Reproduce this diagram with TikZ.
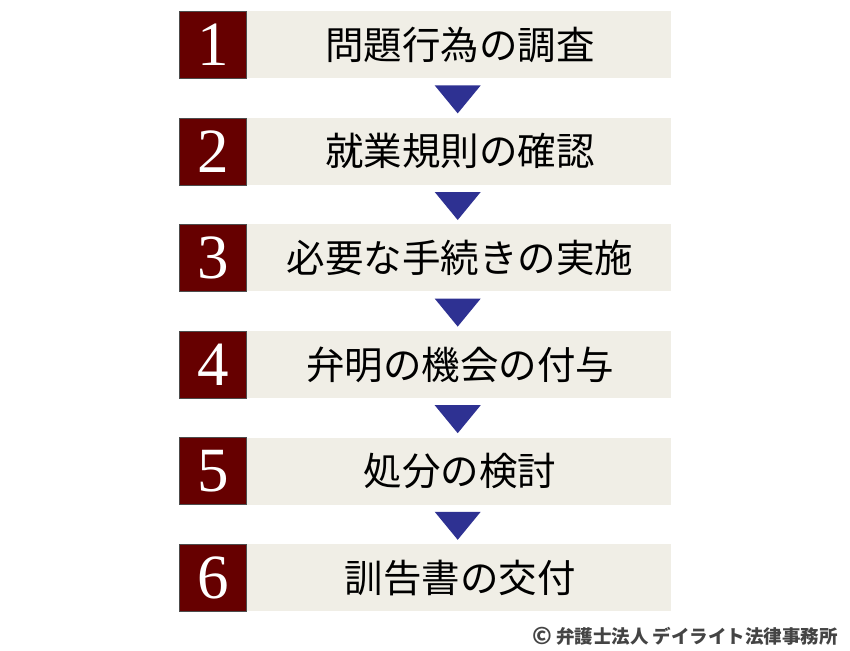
\documentclass[tikz,border=0pt]{standalone}
\usepackage{fontspec}
\setmainfont{Liberation Serif}
\newfontfamily\jp{Noto Sans CJK JP}
\usetikzlibrary{calc}
\definecolor{numred}{HTML}{660000}
\definecolor{beige}{HTML}{F0EEE6}
\definecolor{triblue}{HTML}{2E3192}
\definecolor{footgray}{HTML}{444444}
\begin{document}
\begin{tikzpicture}[x=1pt,y=-1pt,
  numbox/.style={draw=black!70, line width=0.8pt, fill=numred, text=white,
    minimum width=67pt, minimum height=67pt, inner sep=0pt, anchor=north west,
    font=\fontsize{63}{63}\selectfont},
  stepbg/.style={fill=beige, minimum width=425pt, minimum height=67pt,
    inner sep=0pt, anchor=north west, font=\jp\fontsize{38.5}{40}\selectfont},
  tri/.style={fill=triblue},
  foot/.style={anchor=east, inner sep=0pt, text=footgray,
    font=\jp\bfseries\fontsize{18.5}{20}\selectfont}]
\useasboundingbox (0,0) rectangle (850,650);
\foreach \t [count=\n] in {問題行為の調査,就業規則の確認,必要な手続きの実施,弁明の機会の付与,処分の検討,訓告書の交付}{
  \pgfmathsetmacro\tp{11+106.6*(\n-1)}
  \node[stepbg] (st\n) at (246,\tp) {\hspace{3pt}\t};
  \node[numbox] (num\n) at (179,\tp) {\raisebox{-2pt}{\n}};
}
\foreach \n in {1,...,5}{
  \fill[tri] ($(st\n.south)+(-24,7)$) -- ($(st\n.south)+(22,7)$) -- ($(st\n.south)+(-1,35)$) -- cycle;
}
\node[foot] (footer) at (838,636) {\raisebox{-1pt}{\fontsize{23}{23}\selectfont ©} 弁護士法人 デイライト法律事務所};
\end{tikzpicture}
\end{document}
